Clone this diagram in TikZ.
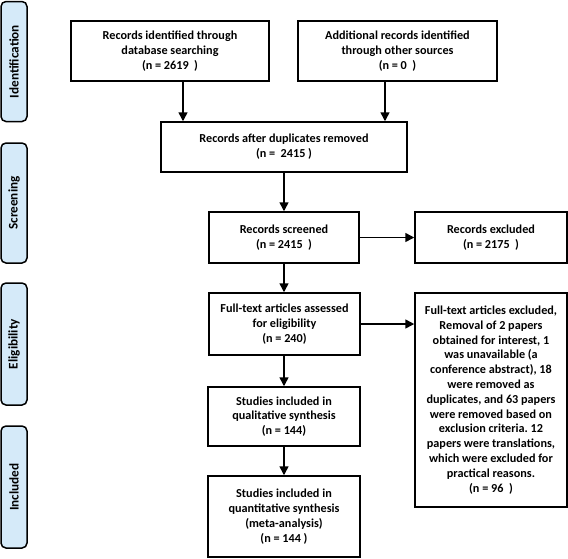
\documentclass[tikz,border=0pt]{standalone}
\usepackage{fontspec}
\setmainfont{Carlito}
\usetikzlibrary{arrows.meta}
\definecolor{sidefill}{HTML}{D5EAF9}
\frenchspacing
\begin{document}
\begin{tikzpicture}[x=1pt,y=-1pt,
  box/.style={draw,line width=1.5pt,rectangle,align=center,font=\bfseries\fontsize{12.2}{14.8}\selectfont,inner sep=1pt},
  side/.style={draw,line width=1.5pt,rounded corners=5pt,fill=sidefill,minimum width=26pt,inner sep=1pt,font=\bfseries\fontsize{13.2}{14}\selectfont},
  arr/.style={line width=1.5pt,-{Triangle[length=9pt,width=9pt]}}]
\useasboundingbox (0,0) rectangle (568,558);
\node[side,minimum height=120pt] (s1) at (14,61.5) {\rotatebox{90}{Identification}};
\node[side,minimum height=120pt] (s2) at (14,203) {\rotatebox{90}{Screening}};
\node[side,minimum height=122pt] (s3) at (14,344) {\rotatebox{90}{Eligibility}};
\node[side,minimum height=122pt] (s4) at (14,487) {\rotatebox{90}{Included}};
\node[box,minimum width=198pt,minimum height=60pt] (b1) at (170,51) {Records identified through\\database searching\\(n = 2619~~)};
\node[box,minimum width=199pt,minimum height=60pt] (b2) at (397.5,51) {Additional records identified\\through other sources\\(n = 0~~)};
\node[box,minimum width=246pt,minimum height=50pt] (dup) at (284,147) {Records after duplicates removed\\(n =~~2415 )};
\node[box,minimum width=150pt,minimum height=51pt] (scr) at (284,237.5) {Records screened\\(n = 2415~~)};
\node[box,minimum width=152pt,minimum height=51pt] (exc) at (491,237.5) {Records excluded\\(n = 2175~~)};
\node[box,minimum width=151pt,minimum height=62pt] (ft) at (284.5,324) {Full-text articles assessed\\for eligibility\\(n = 240)};
\node[box,minimum width=152pt,minimum height=214pt] (fte) at (491,400) {Full-text articles excluded,\\Removal of 2 papers\\obtained for interest, 1\\was unavailable (a\\conference abstract), 18\\were removed as\\duplicates, and 63 papers\\were removed based on\\exclusion criteria. 12\\papers were translations,\\which were excluded for\\practical reasons.\\(n = 96~~)};
\node[box,minimum width=152pt,minimum height=59pt] (qual) at (284,416.5) {Studies included in\\qualitative synthesis\\(n = 144)};
\node[box,minimum width=152pt,minimum height=81pt] (quant) at (284,516.5) {Studies included in\\quantitative synthesis\\(meta-analysis)\\(n = 144 )};
\coordinate (a1) at (183,0);
\coordinate (a2) at (385,0);
\draw[arr] (b1.south -| a1) -- (dup.north -| a1);
\draw[arr] (b2.south -| a2) -- (dup.north -| a2);
\draw[arr] (dup.south -| scr) -- (scr.north);
\draw[arr] (scr.east) -- (exc.west);
\draw[arr] (scr.south) -- (ft.north -| scr);
\draw[arr] (ft.east) -- (ft.east -| fte.west);
\draw[arr] (ft.south -| scr) -- (qual.north);
\draw[arr] (qual.south) -- (quant.north);
\end{tikzpicture}
\end{document}
